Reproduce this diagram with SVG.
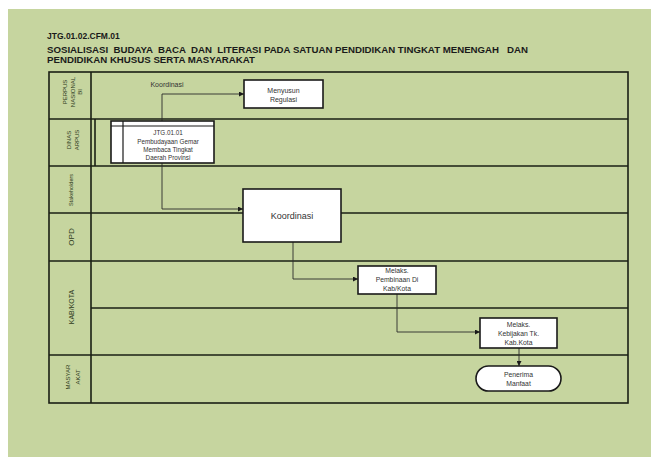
<svg xmlns="http://www.w3.org/2000/svg" width="651" height="457" viewBox="0 0 651 457">
<defs>
<marker id="arr" viewBox="0 0 10 10" refX="10" refY="5" markerWidth="5" markerHeight="5" orient="auto" markerUnits="userSpaceOnUse">
<path d="M0,0 L10,5 L0,10 z" fill="#1a1a1a"/>
</marker>
<style>
.grid{stroke:#1a1f14;stroke-width:1.6;fill:none}
.box{fill:#ffffff;stroke:#1a1a1a;stroke-width:1.6}
.conn{fill:none;stroke:#2a2a2a;stroke-width:0.9;marker-end:url(#arr)}
.t{font-family:"Liberation Sans",Arial,sans-serif;fill:#333333;text-anchor:middle}
.lab{font-family:"Liberation Sans",Arial,sans-serif;fill:#2e3a20;text-anchor:middle}
.title{font-family:"Liberation Sans",Arial,sans-serif;font-weight:bold;fill:#1a1a1a;white-space:pre}
</style>
</defs>
<rect x="0" y="0" width="651" height="457" fill="#ffffff"/>
<rect x="8" y="9" width="643" height="448" fill="#c6d59f"/>

<text class="title" x="47" y="39" font-size="8.5">JTG.01.02.CFM.01</text>
<text class="title" x="47" y="52.5" font-size="9" textLength="481" lengthAdjust="spacingAndGlyphs" xml:space="preserve">SOSIALISASI  BUDAYA  BACA  DAN  LITERASI PADA SATUAN PENDIDIKAN TINGKAT MENENGAH   DAN</text>
<text class="title" x="47" y="62.5" font-size="9" textLength="208" lengthAdjust="spacingAndGlyphs">PENDIDIKAN KHUSUS SERTA MASYARAKAT</text>

<g id="lanes">
<rect class="grid" x="49" y="72" width="579" height="331"/>
<line class="grid" x1="91" y1="72" x2="91" y2="403"/>
<line class="grid" x1="49" y1="119" x2="628" y2="119"/>
<line class="grid" x1="49" y1="166" x2="628" y2="166"/>
<line class="grid" x1="49" y1="213" x2="628" y2="213"/>
<line class="grid" x1="49" y1="261" x2="628" y2="261"/>
<line class="grid" x1="91" y1="308" x2="628" y2="308"/>
<line class="grid" x1="49" y1="355" x2="628" y2="355"/>
<line class="grid" x1="95" y1="119" x2="95" y2="166"/>
</g>

<g id="lane-labels">
<g transform="translate(72,92) rotate(-90)">
<text class="lab" x="0" y="-5" font-size="6">PERPUS</text>
<text class="lab" x="0" y="3" font-size="6">NASIONAL</text>
<text class="lab" x="0" y="10" font-size="6">BI</text>
</g>
<g transform="translate(73,140) rotate(-90)">
<text class="lab" x="0" y="-2" font-size="6">DINAS</text>
<text class="lab" x="0" y="6" font-size="6">ARPUS</text>
</g>
<text class="lab" font-size="5.5" transform="translate(73,190) rotate(-90)">Stakeholders</text>
<text class="lab" font-size="8" transform="translate(74,237) rotate(-90)">OPD</text>
<text class="lab" font-size="7" transform="translate(73.5,307) rotate(-90)">KAB/KOTA</text>
<g transform="translate(73,377) rotate(-90)">
<text class="lab" x="0" y="-3" font-size="6">MASYAR</text>
<text class="lab" x="0" y="7" font-size="6">AKAT</text>
</g>
</g>

<g id="connectors">
<polyline class="conn" points="162,121 162,94 244,94"/>
<polyline class="conn" points="162,163 162,209 243,209"/>
<polyline class="conn" points="293,242 293,279 358,279"/>
<polyline class="conn" points="397,294 397,332 480,332"/>
<polyline class="conn" points="519,348 519,366"/>
<text class="t" x="167" y="87" font-size="7">Koordinasi</text>
</g>

<g id="node-menyusun">
<rect class="box" x="244" y="80" width="79" height="28"/>
<text class="t" x="283.5" y="92.5" font-size="7">Menyusun</text>
<text class="t" x="283.5" y="101.5" font-size="7">Regulasi</text>
</g>

<g id="node-jtg0101">
<rect class="box" x="111" y="121" width="103" height="42"/>
<line x1="111" y1="126" x2="214" y2="126" stroke="#1a1a1a" stroke-width="1.2"/>
<line x1="123" y1="121" x2="123" y2="163" stroke="#1a1a1a" stroke-width="1.2"/>
<text class="t" x="168" y="135" font-size="6.3">JTG.01.01</text>
<text class="t" x="168" y="143.5" font-size="6.3">Pembudayaan Gemar</text>
<text class="t" x="168" y="151.5" font-size="6.3">Membaca Tingkat</text>
<text class="t" x="168" y="159.5" font-size="6.3">Daerah Provinsi</text>
</g>

<g id="node-koordinasi">
<rect class="box" x="243" y="189" width="98" height="53"/>
<text class="t" x="292" y="219" font-size="9">Koordinasi</text>
</g>

<g id="node-pembinaan">
<rect class="box" x="358" y="266" width="78" height="28"/>
<text class="t" x="397" y="273" font-size="6.8">Melaks.</text>
<text class="t" x="397" y="282" font-size="6.8">Pembinaan Di</text>
<text class="t" x="397" y="291" font-size="6.8">Kab/Kota</text>
</g>

<g id="node-kebijakan">
<rect class="box" x="480" y="318" width="77" height="30"/>
<text class="t" x="518.5" y="326.5" font-size="6.8">Melaks.</text>
<text class="t" x="518.5" y="335.5" font-size="6.8">Kebijakan Tk.</text>
<text class="t" x="518.5" y="344.5" font-size="6.8">Kab.Kota</text>
</g>

<g id="node-penerima">
<rect class="box" x="476" y="366" width="85" height="25" rx="12.5" ry="12.5"/>
<text class="t" x="518.5" y="376.5" font-size="6.8">Penerima</text>
<text class="t" x="518.5" y="385.5" font-size="6.8">Manfaat</text>
</g>
</svg>
